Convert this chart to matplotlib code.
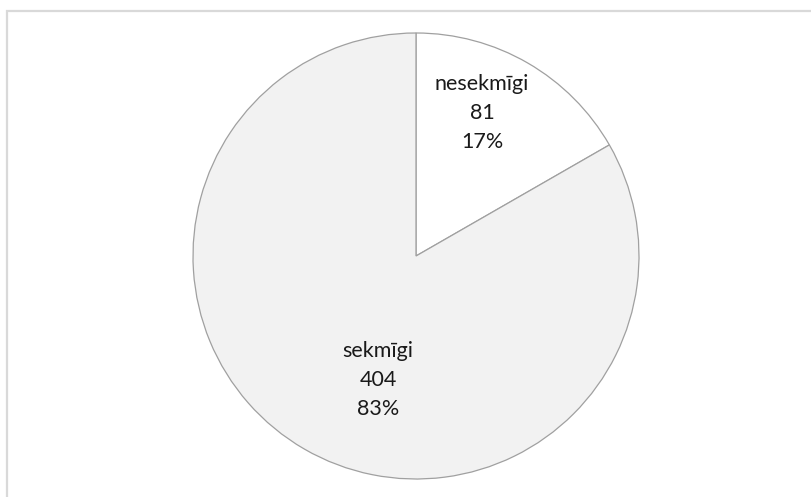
import matplotlib.pyplot as plt
from matplotlib.patches import Rectangle

categories = ["nesekmīgi", "sekmīgi"]
counts = [81, 404]
percents = ["17%", "83%"]
colors = ["#ffffff", "#f2f2f2"]

W, H = 811, 497
fig = plt.figure(figsize=(W / 100, H / 100), dpi=100)
fig.patch.set_facecolor("white")

# outer chart frame (only top and left edges fall inside the canvas)
fig.patches.append(Rectangle((7 / W, -0.1), 1.2, (H - 11) / H + 0.1,
                             transform=fig.transFigure, fill=False,
                             edgecolor="#d9d9d9", linewidth=1.6))

cx, cy, r = 416, 256, 223
ax = fig.add_axes([(cx - r) / W, (H - cy - r) / H, 2 * r / W, 2 * r / H])
ax.pie(counts, colors=colors, startangle=90, counterclock=False,
       wedgeprops=dict(edgecolor="#a0a0a0", linewidth=0.9))
ax.set_xlim(-1, 1)
ax.set_ylim(-1, 1)
ax.set_aspect("equal")
ax.axis("off")

label_pos = [(0.296, 0.641), (-0.17, -0.556)]
for name, n, p, (x, y) in zip(categories, counts, percents, label_pos):
    ax.text(x, y, f"{name}\n{n}\n{p}", ha="center", va="center",
            fontsize=15.5, family=["Lato", "DejaVu Sans"], color="#1a1a1a",
            linespacing=1.55)

fig.savefig("out.png", dpi=100)
